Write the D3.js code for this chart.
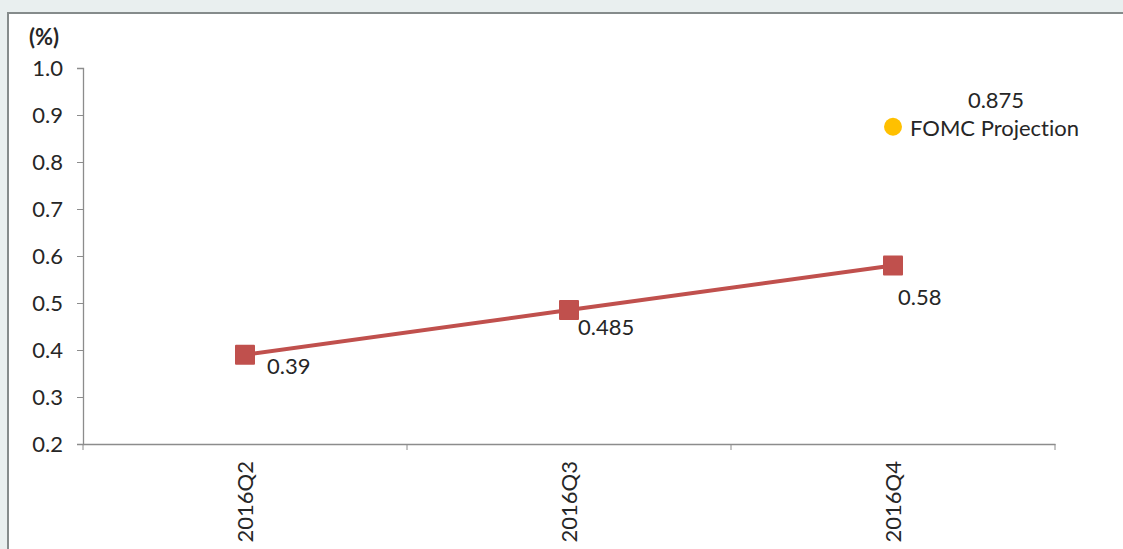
<!DOCTYPE html>
<html>
<head>
<meta charset="utf-8">
<script src="https://cdn.jsdelivr.net/npm/d3@7"></script>
<style>
  body { margin: 0; background: #e9efef; }
  svg { display: block; font-family: Lato, "Open Sans", sans-serif; font-variant-ligatures: none; }
</style>
</head>
<body>
<svg width="1123" height="549"></svg>
<script>
// quarters and the observed path
var quarters = ['2016Q2', '2016Q3', '2016Q4'];
var values = [0.39, 0.485, 0.58];
var valueLabels = ['0.39', '0.485', '0.58'];

// projection point
var projQuarter = '2016Q4';
var projValue = 0.875;
var projName = 'FOMC Projection';

var yTicks = [0.2, 0.3, 0.4, 0.5, 0.6, 0.7, 0.8, 0.9, 1.0];

var svg = d3.select('svg'),
    margin = {top: 68, right: 68, bottom: 105, left: 83},
    width = +svg.attr('width') - margin.left - margin.right,
    height = +svg.attr('height') - margin.top - margin.bottom;

var fs = 22;

// panel with grey frame
svg.append('rect')
    .attr('x', 8).attr('y', 13)
    .attr('width', 1200).attr('height', 600)
    .attr('fill', '#fff')
    .attr('stroke', '#858b8b')
    .attr('stroke-width', 2);

var x = d3.scaleBand().domain(quarters).range([0, width]);
var y = d3.scaleLinear().domain([0.2, 1.0]).range([height, 0]);

var g = svg.append('g')
    .attr('transform', 'translate(' + margin.left + ',' + margin.top + ')');

var yAxis = g.append('g')
    .attr('class', 'axis axis--y')
    .call(d3.axisLeft(y).tickValues(yTicks).tickFormat(d3.format('.1f')).tickSize(6).tickPadding(14));

var xAxis = g.append('g')
    .attr('class', 'axis axis--x')
    .attr('transform', 'translate(0,' + height + ')')
    .call(d3.axisBottom(x).tickSize(0).tickFormat(''));

// Excel puts the x ticks between categories
xAxis.selectAll('line.between')
    .data(quarters.concat(['end']))
  .enter().append('line')
    .attr('class', 'between')
    .attr('x1', function(d, i) { return i * x.step(); })
    .attr('x2', function(d, i) { return i * x.step(); })
    .attr('y1', 0).attr('y2', 6)
    .attr('stroke', '#8c8c8c');

g.selectAll('.axis path.domain').attr('stroke', '#8c8c8c').attr('stroke-width', 1.3);
yAxis.selectAll('.tick line').attr('stroke', '#8c8c8c');
yAxis.selectAll('text').attr('font-size', fs).attr('fill', '#262626')
    .attr('font-family', 'Lato, sans-serif');

g.selectAll('text.qlabel')
    .data(quarters)
  .enter().append('text')
    .attr('class', 'qlabel')
    .attr('transform', function(d) {
      return 'translate(' + (x(d) + x.bandwidth() / 2 + 8) + ',' + (height + 17) + ') rotate(-90)';
    })
    .attr('text-anchor', 'end')
    .attr('font-size', fs)
    .attr('fill', '#262626')
    .text(function(d) { return d; });

// unit label
svg.append('text')
    .attr('x', 29).attr('y', 45)
    .attr('font-size', fs)
    .attr('font-weight', 'bold')
    .attr('fill', '#262626')
    .text('(%)');

var cx = function(d, i) { return x(quarters[i]) + x.bandwidth() / 2; };

var line = d3.line()
    .x(function(d, i) { return cx(d, i); })
    .y(function(d) { return y(d); });

g.append('path')
    .datum(values)
    .attr('fill', 'none')
    .attr('stroke', '#c0504d')
    .attr('stroke-width', 4)
    .attr('d', line);

g.selectAll('rect.pt')
    .data(values)
  .enter().append('rect')
    .attr('class', 'pt')
    .attr('x', function(d, i) { return cx(d, i) - 10; })
    .attr('y', function(d) { return y(d) - 10; })
    .attr('width', 20).attr('height', 20)
    .attr('rx', 1)
    .attr('fill', '#c0504d');

// label offsets as Excel placed them
var labelDx = [22, 9, 5];
var labelDy = [19, 25, 40];
g.selectAll('text.vlabel')
    .data(values)
  .enter().append('text')
    .attr('class', 'vlabel')
    .attr('x', function(d, i) { return cx(d, i) + labelDx[i]; })
    .attr('y', function(d, i) { return y(d) + labelDy[i]; })
    .attr('font-size', fs)
    .attr('fill', '#262626')
    .text(function(d, i) { return valueLabels[i]; });

// projection dot and its labels
var px = x(projQuarter) + x.bandwidth() / 2;
g.append('circle')
    .attr('cx', px).attr('cy', y(projValue))
    .attr('r', 9)
    .attr('fill', '#ffc000');

g.append('text')
    .attr('x', px + 17).attr('y', y(projValue) + 9)
    .attr('font-size', fs)
    .attr('fill', '#262626')
    .text(projName);

g.append('text')
    .attr('x', px + 103).attr('y', y(projValue) - 19)
    .attr('text-anchor', 'middle')
    .attr('font-size', fs)
    .attr('fill', '#262626')
    .text(projValue);
</script>
</body>
</html>
